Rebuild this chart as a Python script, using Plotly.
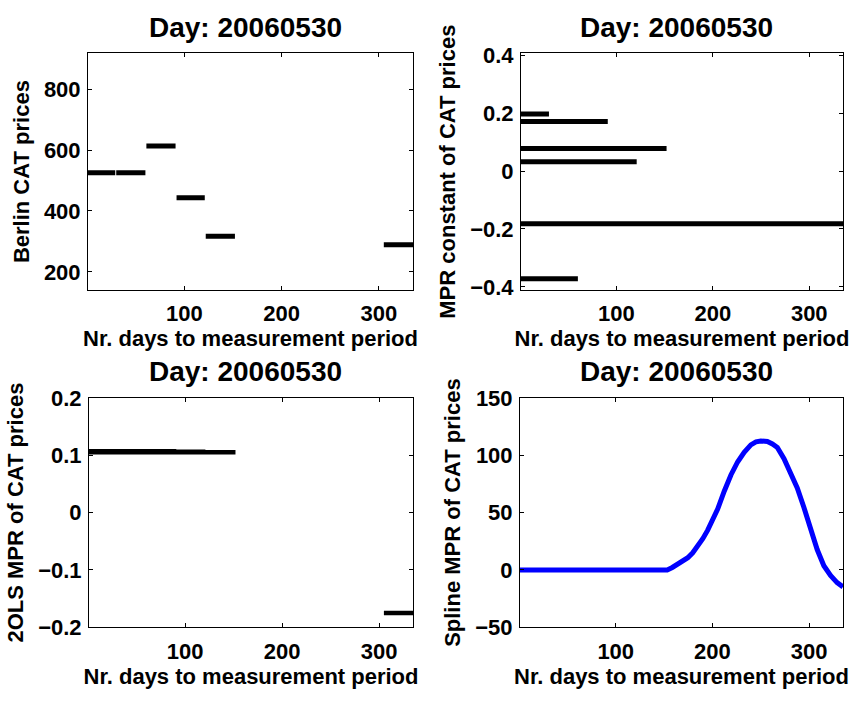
import plotly.graph_objects as go

W, H = 858, 705

# ---- data ----
day_title = "Day: 20060530"
x_label = "Nr. days to measurement period"

# Berlin CAT futures (monthly contracts)
cat_start = [1, 30, 61, 92, 122, 305]
cat_end = [29, 60, 91, 121, 152, 335]
cat_price = [525, 525, 613, 443, 317, 289]

# MPR constant per contract (line from day 1 to contract end)
mpr_end = [30, 91, 152, 121, 335, 60]
mpr_const = [0.197, 0.171, 0.078, 0.032, -0.182, -0.372]

# 2OLS MPR
ols_start = [1, 1, 1, 1, 1, 305]
ols_end = [30, 60, 91, 121, 152, 335]
ols_mpr = [0.107, 0.106, 0.107, 0.106, 0.105, -0.175]

# Spline MPR
spline_x = [1, 60, 120, 153.2, 158.5, 164.2, 169.3, 174.5, 179.6, 184.8, 190.0, 195.1,
            200.2, 205.4, 212.2, 219.1, 226.0, 232.8, 239.7, 245.0, 250.0, 256.8,
            262.0, 267.1, 274.0, 280.9, 287.7, 294.6, 301.5, 308.3, 315.2, 322.1,
            328.9, 335.0]
spline_y = [0, 0, 0, 0, 2.2, 5.1, 7.6, 10.7, 15.0, 20.6, 27.2, 34.7,
            43.5, 53.1, 68.6, 82.8, 94.1, 102.5, 109.0, 111.6, 112.4, 111.9,
            109.8, 106.8, 96.9, 84.2, 71.5, 54.5, 36.2, 17.8, 3.7, -4.8,
            -11.0, -14.7]

FONT = "Liberation Sans, Arial, Helvetica, sans-serif"

fig = go.Figure()


def segs(xs0, xs1, ys):
    X, Y = [], []
    for a, b, v in zip(xs0, xs1, ys):
        X += [a, b, None]
        Y += [v, v, None]
    return X, Y


X, Y = segs(cat_start, cat_end, cat_price)
fig.add_trace(go.Scatter(x=X, y=Y, mode="lines", line=dict(color="black", width=5),
                         xaxis="x", yaxis="y", showlegend=False))
X, Y = segs([1] * len(mpr_end), mpr_end, mpr_const)
fig.add_trace(go.Scatter(x=X, y=Y, mode="lines", line=dict(color="black", width=5),
                         xaxis="x2", yaxis="y2", showlegend=False))
X, Y = segs(ols_start, ols_end, ols_mpr)
fig.add_trace(go.Scatter(x=X, y=Y, mode="lines", line=dict(color="black", width=4.5),
                         xaxis="x3", yaxis="y3", showlegend=False))
fig.add_trace(go.Scatter(x=spline_x, y=spline_y, mode="lines",
                         line=dict(color="#0000ff", width=5),
                         xaxis="x4", yaxis="y4", showlegend=False))

# pixel boxes: (left, right, top, bottom)
boxes = [(88, 413, 43, 288), (521, 843, 43, 288), (89, 413, 400, 638), (520, 843, 400, 638)]
yranges = [[141, 917], [-0.41, 0.406], [-0.2, 0.2], [-50, 150]]
yticks = [[200, 400, 600, 800], [-0.4, -0.2, 0, 0.2, 0.4], [-0.2, -0.1, 0, 0.1, 0.2],
          [-50, 0, 50, 100, 150]]
ylabels = ["Berlin CAT prices", "MPR constant of CAT prices", "2OLS MPR of CAT prices",
           "Spline MPR of CAT prices"]

axis_common = dict(showline=True, linecolor="black", linewidth=1, mirror="ticks",
                   ticks="inside", ticklen=4, tickcolor="black", showgrid=False,
                   zeroline=False, tickfont=dict(family=FONT, size=22, color="black", weight="bold"))

annotations = []
for i, (l, r, t, b) in enumerate(boxes):
    sx = "" if i == 0 else str(i + 1)
    xd = [l / W, r / W]
    yd = [1 - b / H, 1 - t / H]
    fig.update_layout(**{
        "xaxis" + sx: dict(domain=xd, range=[1, 335], tickvals=[100, 200, 300],
                           anchor="y" + sx, ticklabelstandoff=4,
                           title=dict(text=x_label, standoff=4,
                                      font=dict(family=FONT, size=22, color="black", weight="bold")),
                           **axis_common),
        "yaxis" + sx: dict(domain=yd, range=yranges[i], tickvals=yticks[i],
                           anchor="x" + sx, ticklabelstandoff=2,
                           title=dict(text=ylabels[i], standoff=8,
                                      font=dict(family=FONT, size=22, color="black", weight="bold")),
                           **axis_common),
    })
    annotations.append(dict(text=day_title, x=(l + r) / 2 / W - 0.006, y=1 - (t - 27) / H,
                            xref="paper", yref="paper", showarrow=False,
                            xanchor="center", yanchor="middle",
                            font=dict(family=FONT, size=28, color="black", weight="bold")))

fig.update_layout(width=W, height=H, margin=dict(l=0, r=0, t=0, b=0),
                  paper_bgcolor="white", plot_bgcolor="white",
                  annotations=annotations, showlegend=False)

fig.write_html("out.html")
